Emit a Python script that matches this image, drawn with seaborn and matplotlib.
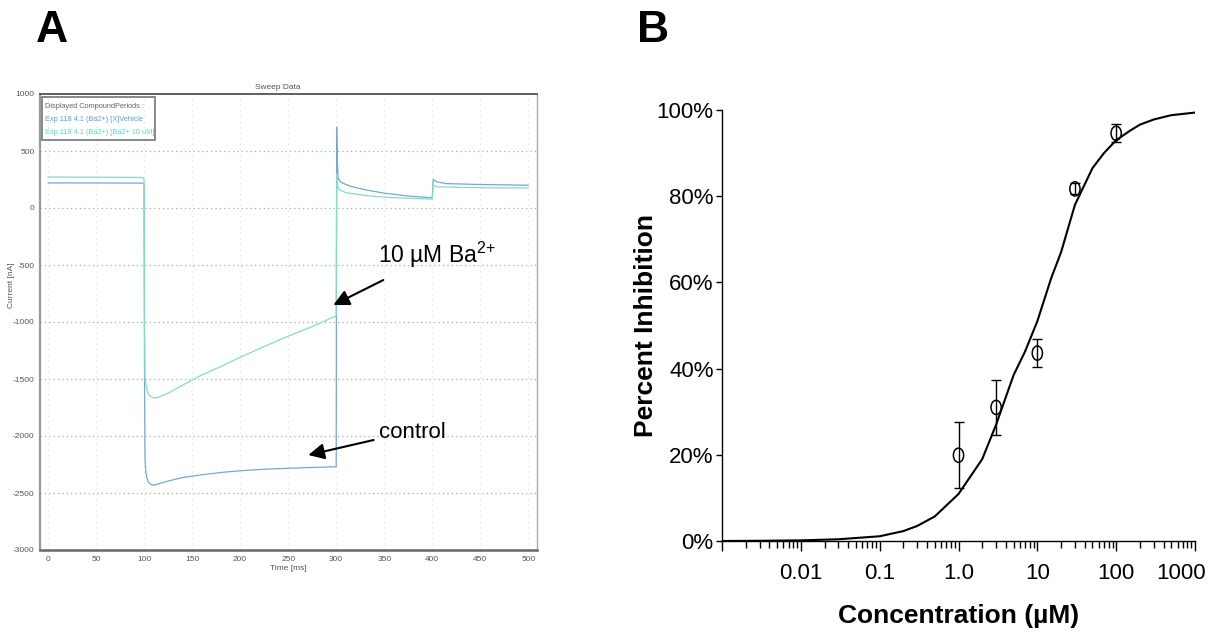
import matplotlib
matplotlib.use("Agg")
import matplotlib.pyplot as plt
import matplotlib.transforms as mtransforms
import seaborn as sns
import pandas as pd
from matplotlib.path import Path
from matplotlib.ticker import PercentFormatter, LogLocator, NullFormatter, FixedLocator

# ---- panel A: sweep traces (time in ms, current)
time_ctrl = [0, 50, 99, 100, 100.5, 101, 102, 104, 107, 110, 115, 125, 140, 160, 180,
             200, 225, 250, 275, 299, 300, 300.5, 301, 302, 305, 315, 330, 350, 375,
             399, 400, 401, 405, 415, 450, 500]
cur_ctrl = [220, 220, 218, 200, -1500, -2200, -2330, -2400, -2425, -2430, -2420, -2395,
            -2365, -2340, -2320, -2305, -2292, -2283, -2276, -2270, -2270, 710, 450, 260,
            225, 190, 160, 130, 105, 90, 92, 250, 228, 214, 206, 200]

time_ba = [0, 50, 99, 100, 100.5, 101, 103, 106, 110, 115, 125, 140, 160, 180, 200, 225,
           250, 275, 299, 300, 300.5, 301, 303, 310, 330, 350, 375, 399, 400, 401, 405,
           450, 500]
cur_ba = [272, 270, 268, 250, -1000, -1500, -1600, -1650, -1667, -1660, -1625, -1555,
          -1465, -1390, -1310, -1215, -1125, -1040, -950, -950, 300, 200, 160, 135, 110,
          95, 85, 78, 80, 200, 185, 178, 175]

# ---- panel B: concentration-response
conc_fit = [0.001, 0.003, 0.01, 0.03, 0.1, 0.2, 0.3, 0.5, 1, 2, 3, 5, 7, 10, 15, 20, 30,
            50, 70, 100, 150, 200, 300, 500, 1000]
inh_fit = [0, 0.05, 0.15, 0.4, 1.1, 2.3, 3.5, 5.7, 10.9, 19, 27, 38.5, 44, 51, 61, 67, 78,
           86.5, 90, 93, 95.2, 96.6, 97.8, 98.8, 99.4]

conc_pts = [1, 3, 10, 30, 100]
inh_pts = [19.9, 31.0, 43.6, 81.7, 94.6]
inh_err = [7.6, 6.4, 3.2, 1.3, 2.1]

xtick_vals = [0.001, 0.01, 0.1, 1, 10, 100, 1000]
xtick_labels = ['', '0.01', '0.1', '1.0', '10', '100', '1000']

sns.set_style("white")
plt.rcParams['font.family'] = ['Liberation Sans', 'DejaVu Sans']
plt.rcParams['mathtext.fontset'] = 'custom'
plt.rcParams['mathtext.rm'] = 'Liberation Sans'
plt.rcParams['axes.unicode_minus'] = False
plt.rcParams['text.color'] = 'black'
plt.rcParams['axes.labelcolor'] = 'black'
plt.rcParams['xtick.color'] = 'black'
plt.rcParams['ytick.color'] = 'black'

W, H = 1216, 640
fig = plt.figure(figsize=(W / 100, H / 100), dpi=100)

# ================= A =================
axA = fig.add_axes([40 / W, 1 - 550 / H, 497 / W, 456 / H])
ctrl_df = pd.DataFrame({'t': time_ctrl, 'I': cur_ctrl})
ba_df = pd.DataFrame({'t': time_ba, 'I': cur_ba})
sns.lineplot(data=ctrl_df, x='t', y='I', sort=False, estimator=None, color='#72aad2', lw=0.9, ax=axA)
sns.lineplot(data=ba_df, x='t', y='I', sort=False, estimator=None, color='#84dbcb', lw=0.9, ax=axA)

axA.set_xlim(-8.3, 509)
axA.set_ylim(-3000, 1000)
axA.set_xticks(range(0, 501, 50))
axA.set_yticks(range(-3000, 1001, 500))
axA.tick_params(axis='both', labelsize=6, labelcolor='#555555', colors='#888888',
                length=2, width=0.6, pad=2)
for y in range(-2500, 1000, 500):
    axA.axhline(y, color='#aaaaaa', ls=(0, (1, 2.5)), lw=0.9, zorder=0)
for x in range(0, 501, 50):
    axA.axvline(x, color='#dddddd', ls=(0, (1, 4)), lw=0.8, zorder=0)
axA.spines['top'].set_linestyle((0, (3, 1)))
axA.spines['top'].set_color('#444444')
axA.spines['top'].set_linewidth(1.2)
axA.spines['left'].set_color('#999999')
axA.spines['left'].set_linewidth(1.6)
axA.spines['bottom'].set_color('#666666')
axA.spines['bottom'].set_linewidth(1.8)
axA.spines['right'].set_color('#aaaaaa')
axA.spines['right'].set_linewidth(1.0)
axA.set_xlabel('Time [ms]', fontsize=6, color='#555555', labelpad=2)
axA.set_ylabel('Current [nA]', fontsize=6, color='#555555')
axA.yaxis.set_label_coords(-0.05, 0.58)
axA.text(0.479, 1.006, 'Sweep Data', transform=axA.transAxes, fontsize=6,
         color='#555555', ha='center', va='bottom')

# legend box of the acquisition software
leg_lines = [('Displayed CompoundPeriods :', '#666666'),
             ('Exp 118 4.1 (Ba2+) [X]Vehicle', '#5aa2d4'),
             ('Exp 118 4.1 (Ba2+) [Ba2+ 10 uM]', '#5fd6c4')]
box = plt.Rectangle((0.004, 0.899), 0.228, 0.095, transform=axA.transAxes,
                    fill=False, ec='#888888', lw=1.4, zorder=3)
axA.add_patch(box)
for i, (txt, col) in enumerate(leg_lines):
    axA.text(0.01, 0.973 - i * 0.029, txt, transform=axA.transAxes, fontsize=5.3,
             color=col, va='center', ha='left')

arrow_kw = dict(arrowstyle='-|>', color='black', lw=1.5, mutation_scale=24,
                shrinkA=0, shrinkB=0)
axA.annotate('', xy=(297, -851), xytext=(349, -632), arrowprops=arrow_kw)
axA.text(343, -480, '10 µM Ba$^{2{+}}$', fontsize=16.5, ha='left', va='baseline')
axA.annotate('', xy=(271, -2167), xytext=(339, -2035), arrowprops=arrow_kw)
axA.text(345, -1965, 'control', fontsize=16, ha='left', va='center')

# ================= B =================
axB = fig.add_axes([722 / W, 1 - 541 / H, 473 / W, 431 / H])
fit_df = pd.DataFrame({'conc': conc_fit, 'inh': inh_fit})
pts_df = pd.DataFrame({'conc': conc_pts, 'inh': inh_pts, 'err': inh_err})

sns.lineplot(data=fit_df, x='conc', y='inh', color='black', lw=1.5, ax=axB)
axB.errorbar(pts_df['conc'], pts_df['inh'], yerr=pts_df['err'], fmt='none',
             ecolor='black', elinewidth=1.0, capsize=3.5, capthick=1.0, zorder=3)
circ = Path.unit_circle()
ellipse = Path(circ.vertices * [0.72, 1.0], circ.codes)
sns.scatterplot(data=pts_df, x='conc', y='inh', marker=ellipse, s=105,
                facecolor='none', edgecolor='black', linewidth=1.1, ax=axB, zorder=4)

axB.set_xscale('log')
axB.set_xlim(0.001, 1000)
axB.set_ylim(0, 100)
axB.xaxis.set_major_locator(FixedLocator(xtick_vals))
axB.set_xticklabels(xtick_labels)
axB.xaxis.set_minor_locator(LogLocator(base=10, subs=range(2, 10), numticks=20))
axB.xaxis.set_minor_formatter(NullFormatter())
axB.set_yticks([0, 20, 40, 60, 80, 100])
axB.yaxis.set_major_formatter(PercentFormatter(100, decimals=0))
axB.tick_params(axis='x', which='major', direction='out', length=7, width=1, pad=9,
                labelsize=16, bottom=True)
axB.tick_params(axis='x', which='minor', direction='out', length=5, width=1, bottom=True)
axB.tick_params(axis='y', direction='out', length=4, width=1, pad=2, labelsize=16, left=True)
# last label sits at the figure edge: nudge it left a little so it stays whole
last = axB.get_xticklabels()[-1]
last.set_transform(last.get_transform() + mtransforms.ScaledTranslation(-14 / 100, 0, fig.dpi_scale_trans))
for s in ['top', 'right']:
    axB.spines[s].set_visible(False)
for s in ['left', 'bottom']:
    axB.spines[s].set_color('black')
    axB.spines[s].set_linewidth(1.0)
axB.set_xlabel('Concentration (µM)', fontsize=19, weight='bold', labelpad=14)
axB.set_ylabel('Percent Inhibition', fontsize=19, weight='bold')
axB.yaxis.set_label_coords(-0.135, 0.5)

fig.text(36 / W, 1 - 31 / H, 'A', fontsize=32, weight='bold', va='center', ha='left')
fig.text(637 / W, 1 - 31 / H, 'B', fontsize=32, weight='bold', va='center', ha='left')

fig.savefig('out.png', dpi=100)
